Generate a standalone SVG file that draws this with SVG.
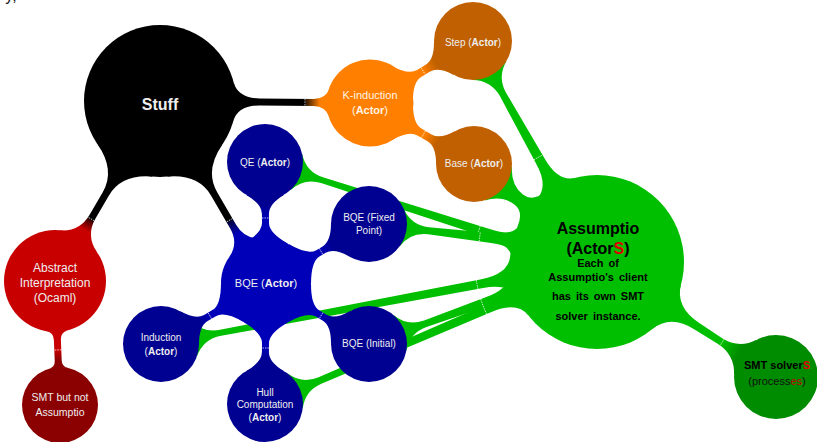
<svg xmlns="http://www.w3.org/2000/svg" width="817" height="442" viewBox="0 0 817 442">
<defs>
<style>
.t{font-family:"Liberation Sans",Arial,Helvetica,sans-serif;text-anchor:middle}
.lt{fill:#EEEEEE}
.dk{fill:#000000}
.b{font-weight:bold}
.tick{stroke:#FFFFFF;stroke-width:0.8;stroke-dasharray:1.5 1;opacity:0.9}
.grn{fill:#00BF00}
.navy{fill:#000091}
.brown{fill:#C06000}
</style>
<linearGradient id="gA" x1="0" y1="0" x2="1" y2="0"><stop offset="0" stop-color="#000"/><stop offset="0.744" stop-color="#000"/><stop offset="0.76" stop-color="#3a1d00"/><stop offset="0.9" stop-color="#FF8000"/></linearGradient>
<linearGradient id="gB" x1="0" y1="0" x2="1" y2="0"><stop offset="0" stop-color="#000"/><stop offset="0.726" stop-color="#000"/><stop offset="0.745" stop-color="#400000"/><stop offset="0.86" stop-color="#C80000"/></linearGradient>
<linearGradient id="gC" x1="0" y1="0" x2="1" y2="0"><stop offset="0" stop-color="#000"/><stop offset="0.685" stop-color="#000"/><stop offset="0.7" stop-color="#000040"/><stop offset="0.84" stop-color="#0000B8"/></linearGradient>
<linearGradient id="gO" x1="0" y1="0" x2="1" y2="0"><stop offset="0" stop-color="#FF8000"/><stop offset="0.5" stop-color="#FF8000"/><stop offset="0.8" stop-color="#C06000"/></linearGradient>
<linearGradient id="gBl" x1="0" y1="0" x2="1" y2="0"><stop offset="0" stop-color="#0000B8"/><stop offset="0.5" stop-color="#0000B8"/><stop offset="0.8" stop-color="#000091"/></linearGradient>
<linearGradient id="gR" x1="0" y1="0" x2="1" y2="0"><stop offset="0" stop-color="#00BF00"/><stop offset="0.7" stop-color="#00BF00"/><stop offset="0.92" stop-color="#008C00"/></linearGradient>
<linearGradient id="gS" x1="0" y1="0" x2="1" y2="0"><stop offset="0" stop-color="#C80000"/><stop offset="0.5" stop-color="#C80000"/><stop offset="0.8" stop-color="#8B0000"/></linearGradient>
</defs>
<rect width="817" height="442" fill="#FFFFFF"/>
<text class="t" x="11" y="1" font-size="16" fill="#222">y,</text>

<g id="connectors">
<!-- green links to Assumptio -->
<g transform="translate(597,262) rotate(-119.3)"><path class="grn" d="M84,-22.5 Q88.7,-5 115.9,-5 L191.9,-3.5 Q210.4,-3.5 219.6,-19.5 L219.6,19.5 Q210.4,3.5 191.9,3.5 L115.9,5 Q88.7,5 84,22.5 Z"/><line class="tick" x1="120" y1="-5" x2="120" y2="5"/></g>
<g transform="translate(597,262) rotate(-141.45)"><path class="grn" d="M84,-22.5 Q88.3,-6.5 100,-6.5 Q115.5,-6.5 126.2,-21.8 L126.2,21.8 Q115.5,6.5 100,6.5 Q88.3,6.5 84,22.5 Z"/></g>
<g transform="translate(597,268) rotate(-162.29)"><path class="grn" d="M81.1,-21.7 Q85.7,-4.5 112.4,-4.5 L287.9,-3 Q306.4,-3 315.6,-19 L315.6,19 Q306.4,3 287.9,3 L112.4,4.5 Q85.7,4.5 81.1,21.7 Z"/><line class="tick" x1="124" y1="-4.4" x2="124" y2="4.4"/></g>
<g transform="translate(597,250) rotate(-173.5)"><path class="grn" d="M77.3,-20.7 Q81.5,-5 105.9,-5 L169.7,-3.5 Q187.6,-3.5 196.6,-19 L196.6,19 Q187.6,3.5 169.7,3.5 L105.9,5 Q81.5,5 77.3,20.7 Z"/><line class="tick" x1="118" y1="-4.8" x2="118" y2="4.8"/></g>
<g transform="translate(597,262) rotate(169.35)"><path class="grn" d="M84,-22.5 Q88.8,-4.5 116.7,-4.5 L383,-3 Q401.5,-3 410.7,-19 L410.7,19 Q401.5,3 383,3 L116.7,4.5 Q88.8,4.5 84,22.5 Z"/><line class="tick" x1="122" y1="-4.5" x2="122" y2="4.5"/></g>
<g transform="translate(597,262) rotate(160.22)"><path class="grn" d="M84,-22.5 Q88.8,-4.5 116.7,-4.5 L182.5,-3.5 Q200.4,-3.5 209.4,-19 L209.4,19 Q200.4,3.5 182.5,3.5 L116.7,4.5 Q88.8,4.5 84,22.5 Z"/><line class="tick" x1="122" y1="-4.5" x2="122" y2="4.5"/></g>
<g transform="translate(597,262) rotate(156.84)"><path class="grn" d="M84,-22.5 Q88.8,-4.5 116.7,-4.5 L301.3,-3.5 Q319.2,-3.5 328.2,-19 L328.2,19 Q319.2,3.5 301.3,3.5 L116.7,4.5 Q88.8,4.5 84,22.5 Z"/><line class="tick" x1="122" y1="-4.5" x2="122" y2="4.5"/></g>
<g transform="translate(597,262) rotate(32.72)"><path fill="url(#gR)" d="M82.7,-26.9 Q90.1,-4 119,-4 L146.1,-3.5 Q166.3,-3.5 176.4,-21 L176.4,21 Q166.3,3.5 146.1,3.5 L119,4 Q90.1,4 82.7,26.9 Z"/><line class="tick" x1="148.7" y1="-3.8" x2="148.7" y2="3.8"/></g>
<!-- Stuff branches -->
<g transform="translate(160,101) rotate(0.55)"><path fill="url(#gA)" d="M73.4,-19.7 Q77.8,-3.5 99.6,-3.5 L153.6,-3.5 Q165.5,-3.5 169.6,-14.7 L169.6,14.7 Q165.5,3.5 153.6,3.5 L99.6,3.5 Q77.8,3.5 73.4,19.7 Z"/><line class="tick" x1="145" y1="-3.5" x2="145" y2="3.5"/></g>
<g transform="translate(160,101) rotate(120.26)"><path fill="url(#gB)" d="M68.9,-32.1 Q82.3,-3.5 107.6,-3.5 L133.7,-3.5 Q153.7,-3.5 162.2,-21.6 L162.2,21.6 Q153.7,3.5 133.7,3.5 L107.6,3.5 Q82.3,3.5 68.9,32.1 Z"/><line class="tick" x1="136.6" y1="-3.6" x2="136.6" y2="3.6"/></g>
<g transform="translate(160,101) rotate(59.78)"><path fill="url(#gC)" d="M68.9,-32.1 Q82.3,-3.5 107.6,-3.5 L145.5,-3.5 Q162.6,-3.5 169.8,-19 L169.8,19 Q162.6,3.5 145.5,3.5 L107.6,3.5 Q82.3,3.5 68.9,32.1 Z"/><line class="tick" x1="138" y1="-3.5" x2="138" y2="3.5"/></g>
<!-- K-induction branches -->
<g transform="translate(370,103) rotate(-31.04)"><path fill="url(#gO)" d="M37.2,-21.5 Q47.3,-4 57.3,-4 L67.4,-4 Q77.4,-4 86.4,-19.5 L86.4,19.5 Q77.4,4 67.4,4 L57.3,4 Q47.3,4 37.2,21.5 Z"/><line class="tick" x1="62" y1="-4" x2="62" y2="4"/></g>
<g transform="translate(370,103) rotate(30.39)"><path fill="url(#gO)" d="M37.2,-21.5 Q47.3,-4 57.3,-4 L69,-4 Q79,-4 87.7,-19 L87.7,19 Q79,4 69,4 L57.3,4 Q47.3,4 37.2,21.5 Z"/><line class="tick" x1="62" y1="-4" x2="62" y2="4"/></g>
<!-- BQE branches -->
<g transform="translate(266,283) rotate(-90.47)"><path fill="url(#gBl)" d="M39,-22.5 Q50,-3.5 60,-3.5 L69,-3.5 Q79.1,-3.5 88.1,-19 L88.1,19 Q79.1,3.5 69,3.5 L60,3.5 Q50,3.5 39,22.5 Z"/><line class="tick" x1="65" y1="-3.5" x2="65" y2="3.5"/></g>
<g transform="translate(266,283) rotate(-29.8)"><path fill="url(#gBl)" d="M39,-22.5 Q50,-3.5 60,-3.5 L66.8,-3.5 Q76.8,-3.5 85.8,-19 L85.8,19 Q76.8,3.5 66.8,3.5 L60,3.5 Q50,3.5 39,22.5 Z"/><line class="tick" x1="63.5" y1="-3.5" x2="63.5" y2="3.5"/></g>
<g transform="translate(266,283) rotate(149.84)"><path fill="url(#gBl)" d="M39,-22.5 Q50,-3.5 60,-3.5 L69.5,-3.5 Q79.5,-3.5 88.5,-19 L88.5,19 Q79.5,3.5 69.5,3.5 L60,3.5 Q50,3.5 39,22.5 Z"/><line class="tick" x1="65" y1="-3.5" x2="65" y2="3.5"/></g>
<g transform="translate(266,283) rotate(30.64)"><path fill="url(#gBl)" d="M39,-22.5 Q50,-3.5 60,-3.5 L67.8,-3.5 Q77.8,-3.5 86.8,-19 L86.8,19 Q77.8,3.5 67.8,3.5 L60,3.5 Q50,3.5 39,22.5 Z"/><line class="tick" x1="64" y1="-3.5" x2="64" y2="3.5"/></g>
<g transform="translate(266,283) rotate(90.47)"><path fill="url(#gBl)" d="M39,-22.5 Q50,-3.5 60,-3.5 L69,-3.5 Q79.1,-3.5 88.1,-19 L88.1,19 Q79.1,3.5 69,3.5 L60,3.5 Q50,3.5 39,22.5 Z"/><line class="tick" x1="65" y1="-3.5" x2="65" y2="3.5"/></g>
<!-- Abstract to SMT but not -->
<g transform="translate(55,281) rotate(87.69)"><path fill="url(#gS)" d="M49.9,-10.6 Q51.4,-3.5 58.7,-3.5 L79.9,-3.5 Q85.8,-3.5 87.2,-9.2 L87.2,9.2 Q85.8,3.5 79.9,3.5 L58.7,3.5 Q51.4,3.5 49.9,10.6 Z"/><line class="tick" x1="69" y1="-3.5" x2="69" y2="3.5"/></g>
</g>

<g id="n-stuff"><circle cx="160" cy="101" r="76" fill="#000000"/><text class="t b lt" x="160" y="110" font-size="16" fill="#FFFFFF">Stuff</text></g>
<g id="n-kinduction"><circle cx="370" cy="103" r="43.5" fill="#FF8000"/><text class="t" x="370" y="99" font-size="11" fill="#FFF2E4">K-induction</text><text class="t" x="370" y="114" font-size="11" fill="#FFF2E4">(<tspan class="b">Actor</tspan>)</text></g>
<g id="n-step"><circle cx="473" cy="41" r="39" class="brown"/><text class="t lt" x="473" y="45.5" font-size="10">Step (<tspan class="b">Actor</tspan>)</text></g>
<g id="n-base"><circle cx="474" cy="164" r="38" class="brown"/><text class="t lt" x="474" y="166.6" font-size="10">Base (<tspan class="b">Actor</tspan>)</text></g>
<g id="n-qe"><circle cx="265" cy="162" r="38" class="navy"/><text class="t lt" x="265" y="165.6" font-size="10">QE (<tspan class="b">Actor</tspan>)</text></g>
<g id="n-bqe-fixed"><circle cx="369" cy="224" r="38" class="navy"/><text class="t lt" x="369" y="220.6" font-size="10">BQE (Fixed</text><text class="t lt" x="369" y="233.6" font-size="10">Point)</text></g>
<g id="n-bqe"><circle cx="266" cy="283" r="45" fill="#0000B8"/><text class="t lt" x="266" y="287" font-size="11">BQE (<tspan class="b">Actor</tspan>)</text></g>
<g id="n-induction"><circle cx="161" cy="344" r="38" class="navy"/><text class="t lt" x="161" y="340.6" font-size="10">Induction</text><text class="t lt" x="161" y="354.6" font-size="10">(<tspan class="b">Actor</tspan>)</text></g>
<g id="n-bqe-initial"><circle cx="369" cy="344" r="38" class="navy"/><text class="t lt" x="369" y="346.6" font-size="10">BQE (Initial)</text></g>
<g id="n-hull"><circle cx="265" cy="404" r="38" class="navy"/><text class="t lt" x="265" y="395.6" font-size="10">Hull</text><text class="t lt" x="265" y="408" font-size="10">Computation</text><text class="t lt" x="265" y="420.6" font-size="10">(<tspan class="b">Actor</tspan>)</text></g>
<g id="n-assumptio"><circle cx="597" cy="262" r="87" class="grn"/>
<text class="t b dk" x="598" y="233.5" font-size="16">Assumptio</text>
<text class="t b dk" x="598" y="254" font-size="16">(Actor<tspan fill="#E00000">S</tspan>)</text>
<text class="t b dk" x="598" y="266.5" font-size="11" word-spacing="2">Each of</text>
<text class="t b dk" x="598" y="281" font-size="11" word-spacing="2">Assumptio's client</text>
<text class="t b dk" x="598" y="299.5" font-size="11" word-spacing="2">has its own SMT</text>
<text class="t b dk" x="598" y="319.5" font-size="11" word-spacing="2">solver instance.</text></g>
<g id="n-smt"><circle cx="776" cy="377" r="42" fill="#008C00"/><text class="t b dk" x="777" y="369" font-size="11">SMT solver<tspan fill="#E00000">S</tspan></text><text class="t" x="777" y="385" font-size="11" fill="#111111">(process<tspan fill="#C00000">es</tspan>)</text></g>
<g id="n-abstract"><circle cx="55" cy="281" r="51" fill="#C80000"/><text class="t lt" x="55" y="272.3" font-size="12">Abstract</text><text class="t lt" x="55" y="287.3" font-size="12">Interpretation</text><text class="t lt" x="55" y="302.3" font-size="12">(Ocaml)</text></g>
<g id="n-smt-not"><circle cx="60" cy="405" r="38" fill="#8B0000"/><text class="t lt" x="60" y="401" font-size="10.5">SMT but not</text><text class="t lt" x="60" y="416" font-size="10.5">Assumptio</text></g>
</svg>
